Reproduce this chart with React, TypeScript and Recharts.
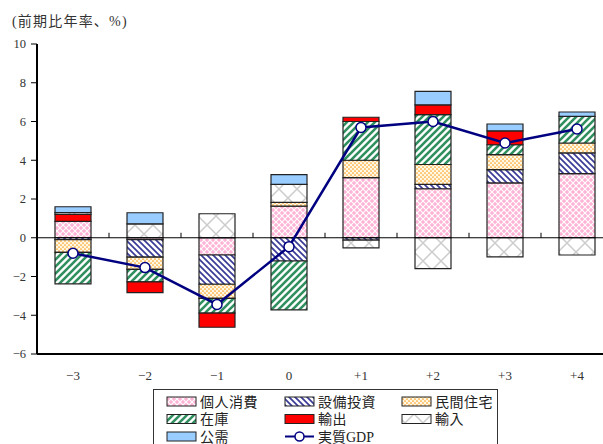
import React from 'react';
import { ComposedChart, Bar, Line, XAxis, YAxis, ReferenceLine } from 'recharts';

const categories = ['−3', '−2', '−1', '0', '+1', '+2', '+3', '+4'];
const consumption = [0.85, -0.1, -0.89, 1.63, 3.1, 2.53, 2.83, 3.31];
const capex = [-0.1, -0.9, -1.51, -1.2, -0.12, 0.22, 0.69, 1.07];
const housing = [-0.65, -0.63, -0.73, 0.2, 0.9, 1.03, 0.77, 0.51];
const inventory = [-1.63, -0.65, -0.76, -2.52, 2.0, 2.57, 0.51, 1.37];
const exportsV = [0.35, -0.55, -0.73, 0, 0.22, 0.51, 0.72, 0];
const importsV = [0.1, 0.72, 1.24, 0.92, -0.4, -1.59, -0.99, -0.89];
const publicV = [0.3, 0.57, 0, 0.51, 0, 0.69, 0.35, 0.23];
const gdp = [-0.8, -1.54, -3.44, -0.46, 5.69, 6.0, 4.89, 5.61];

const seriesNames = ['個人消費', '設備投資', '民間住宅', '在庫', '輸出', '輸入', '公需'];
const gdpName = '実質GDP';
const yTicks = [-6, -4, -2, 0, 2, 4, 6, 8, 10];
const title = '(前期比年率、%)';

const seriesValues = [consumption, capex, housing, inventory, exportsV, importsV, publicV];
const keys = ['cons', 'capex', 'housing', 'inv', 'exp', 'imp', 'pub'];

const data = categories.map((c, i) => {
  const row: any = { cat: c, gdp: gdp[i] };
  keys.forEach((k, j) => { row[k] = seriesValues[j][i]; });
  return row;
});

const FONT = "'Liberation Serif', 'Noto Sans CJK JP', serif";

const Patterns = ({ prefix }: { prefix: string }) => (
  <defs>
    <pattern id={`${prefix}cons`} width="6" height="6" patternUnits="userSpaceOnUse">
      <rect width="6" height="6" fill="#ffb3d6" />
      <path d="M0,0 L6,6 M6,0 L0,6" stroke="#ffffff" strokeWidth="1.1" />
    </pattern>
    <pattern id={`${prefix}capex`} width="6" height="6" patternUnits="userSpaceOnUse">
      <rect width="6" height="6" fill="#ffffff" />
      <path d="M0,0 L6,6 M-1,5 L1,7 M5,-1 L7,1" stroke="#3b3b98" strokeWidth="1.7" />
    </pattern>
    <pattern id={`${prefix}housing`} width="4" height="4" patternUnits="userSpaceOnUse">
      <rect width="4" height="4" fill="#fff8e4" />
      <circle cx="1" cy="1" r="0.85" fill="#ffa020" />
      <circle cx="3" cy="3" r="0.85" fill="#ffa020" />
    </pattern>
    <pattern id={`${prefix}inv`} width="7" height="7" patternUnits="userSpaceOnUse">
      <rect width="7" height="7" fill="#ffffff" />
      <path d="M0,7 L7,0 M-1,1 L1,-1 M6,8 L8,6" stroke="#2f8f5f" strokeWidth="2.6" />
    </pattern>
    <pattern id={`${prefix}imp`} width="18" height="18" patternUnits="userSpaceOnUse">
      <rect width="18" height="18" fill="#ffffff" />
      <path d="M0,0 L18,18 M18,0 L0,18" stroke="#cccccc" strokeWidth="1.5" />
    </pattern>
  </defs>
);

const fills = (prefix: string) => [
  `url(#${prefix}cons)`,
  `url(#${prefix}capex)`,
  `url(#${prefix}housing)`,
  `url(#${prefix}inv)`,
  '#ff0000',
  `url(#${prefix}imp)`,
  '#99ccff',
];

const ZeroLine = (props: any) => {
  const { x1, y1, x2 } = props;
  if (x1 == null) return null;
  const n = categories.length;
  const step = (x2 - x1) / n;
  const ticks = [];
  for (let i = 0; i <= n; i++) {
    const x = x1 + i * step;
    ticks.push(<line key={i} x1={x} x2={x} y1={y1 - 5} y2={y1} stroke="#000" strokeWidth={1} />);
  }
  return (
    <g>
      <line x1={x1} x2={x2} y1={y1} y2={y1} stroke="#000" strokeWidth={1} />
      {ticks}
    </g>
  );
};

const XTick = (props: any) => {
  const { x, y, payload } = props;
  return (
    <text x={x} y={y + 18} textAnchor="middle" fontSize={13} fontFamily={FONT} fill="#333">
      {payload.value}
    </text>
  );
};

const Legend = () => {
  const f = fills('lg');
  const colX = [167, 285, 402];
  const rowY = [401.5, 419, 436.5];
  const items = seriesNames.map((name, i) => ({ name, fill: f[i], col: i % 3, row: Math.floor(i / 3) }));
  return (
    <svg width={603} height={444} style={{ position: 'absolute', left: 0, top: 0, pointerEvents: 'none' }}>
      <Patterns prefix="lg" />
      <rect x={153.5} y={389.5} width={344} height={60} fill="#fff" stroke="#333" strokeWidth={1} />
      {items.map((it) => (
        <g key={it.name}>
          <rect x={colX[it.col]} y={rowY[it.row] - 4.5} width={29} height={9} fill={it.fill} stroke="#222" strokeWidth={1} />
          <text x={colX[it.col] + 33} y={rowY[it.row] + 5} fontSize={14} fontFamily={FONT} fill="#222" letterSpacing={0.5}>{it.name}</text>
        </g>
      ))}
      <g>
        <line x1={colX[1]} x2={colX[1] + 29} y1={rowY[2]} y2={rowY[2]} stroke="#000080" strokeWidth={2} />
        <circle cx={colX[1] + 14.5} cy={rowY[2]} r={4.5} fill="#fff" stroke="#000080" strokeWidth={1.5} />
        <text x={colX[1] + 33} y={rowY[2] + 5} fontSize={14} fontFamily={FONT} fill="#222">{gdpName}</text>
      </g>
    </svg>
  );
};

export default function App() {
  const f = fills('ch');
  return (
    <div style={{ position: 'absolute', left: 0, top: 0, width: 603, height: 444, overflow: 'hidden', background: '#fff' }}>
      <div style={{ position: 'absolute', left: 12, top: 10, fontSize: 14, fontFamily: FONT, color: '#333', letterSpacing: 1.2, whiteSpace: 'nowrap' }}>
        {title}
      </div>
      <ComposedChart
        width={620}
        height={444}
        data={data}
        stackOffset="sign"
        barCategoryGap="25%"
        margin={{ top: 44, right: 7, left: 0, bottom: 60 }}
      >
        <Patterns prefix="ch" />
        <XAxis
          dataKey="cat"
          height={30}
          axisLine={{ stroke: '#000', strokeWidth: 2 }}
          tickLine={false}
          tick={<XTick />}
          interval={0}
        />
        <XAxis
          xAxisId="top"
          dataKey="cat"
          orientation="top"
          height={0}
          axisLine={{ stroke: '#000', strokeWidth: 2 }}
          tickLine={false}
          tick={false}
        />
        <YAxis
          width={37}
          domain={[-6, 10]}
          ticks={yTicks}
          interval={0}
          tickSize={6}
          tickMargin={5}
          axisLine={{ stroke: '#000', strokeWidth: 2 }}
          tickLine={{ stroke: '#000' }}
          tick={{ fontSize: 12.5, fontFamily: FONT, fill: '#333' }}
          tickFormatter={(v: number) => (v < 0 ? `−${Math.abs(v)}` : `${v}`)}
        />
        {keys.map((k, j) => (
          <Bar
            key={k}
            dataKey={k}
            name={seriesNames[j]}
            stackId="a"
            fill={f[j]}
            stroke="#222"
            strokeWidth={1.2}
            isAnimationActive={false}
          />
        ))}
        <ReferenceLine y={0} shape={<ZeroLine />} />
        <Line
          dataKey="gdp"
          name={gdpName}
          stroke="#000080"
          strokeWidth={2.5}
          dot={{ r: 5, fill: '#fff', stroke: '#000080', strokeWidth: 1.5 }}
          isAnimationActive={false}
        />
      </ComposedChart>
      <Legend />
    </div>
  );
}
